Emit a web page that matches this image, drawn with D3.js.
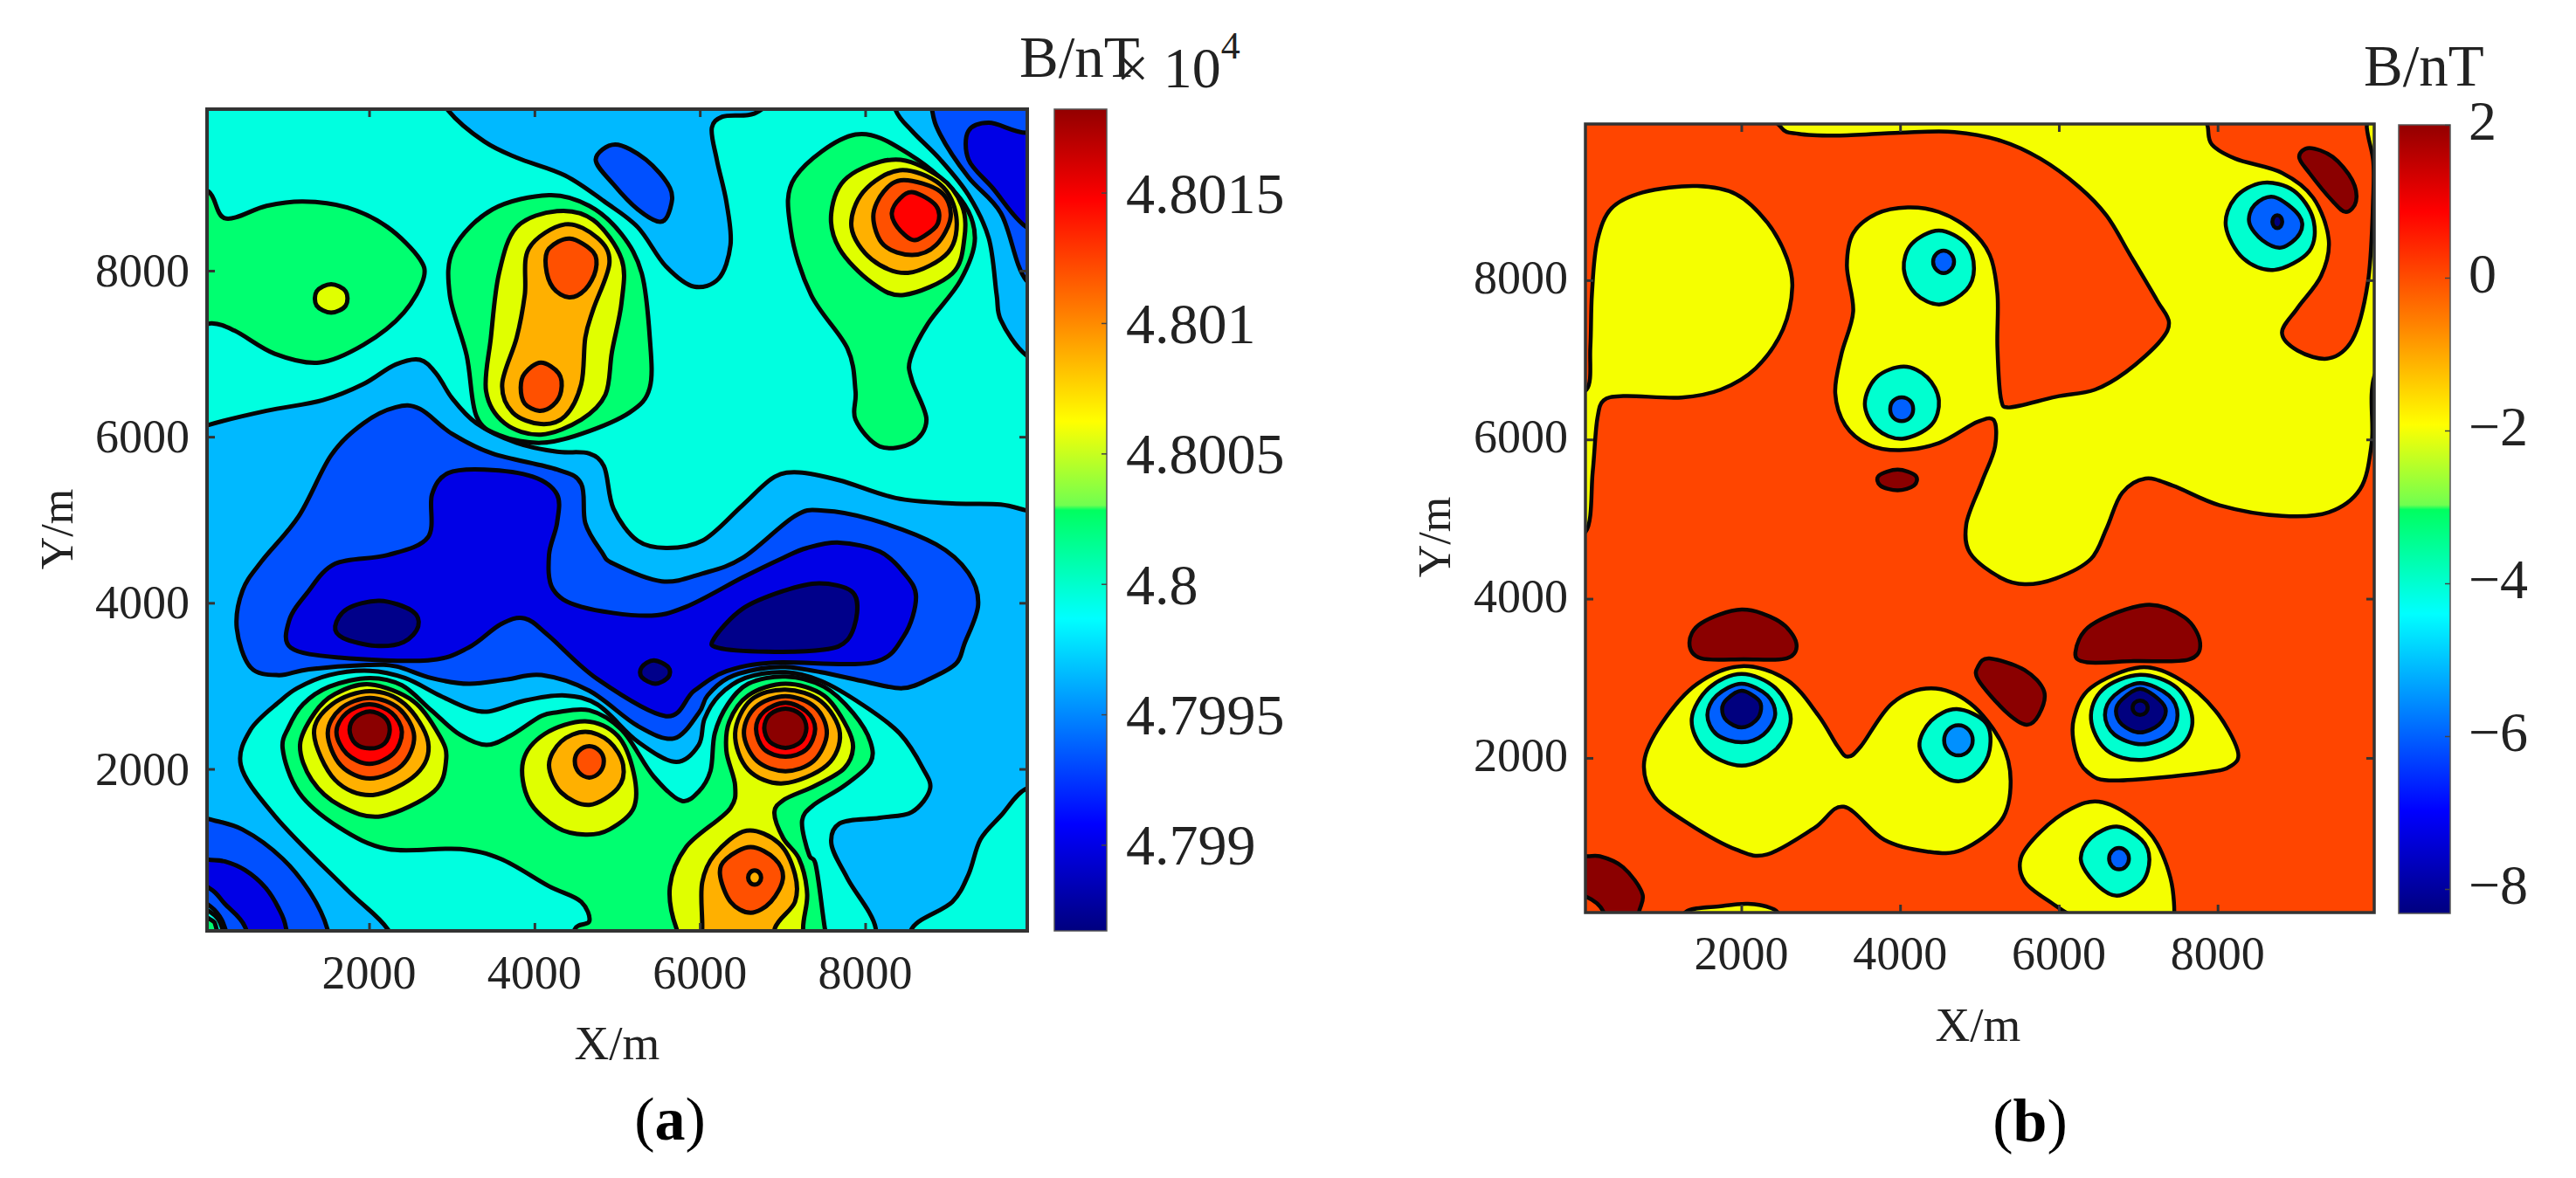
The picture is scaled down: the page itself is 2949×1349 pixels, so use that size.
<!DOCTYPE html>
<html><head><meta charset="utf-8">
<script src="https://cdn.jsdelivr.net/npm/d3@7"></script>
<style>
html,body{margin:0;padding:0;background:#fff}
svg{display:block}
text{font-family:"Liberation Serif",serif;fill:#222}
</style></head><body>
<svg id="c" width="2949" height="1349"></svg>
<script>
// ---------- tick labels ----------
const posTicks=[2000,4000,6000,8000];
const barTicksA=[4.799,4.7995,4.8,4.8005,4.801,4.8015];
const barLabelsA=["4.799","4.7995","4.8","4.8005","4.801","4.8015"];
const barTicksB=[-8,-6,-4,-2,0,2];
const barDomainA=[4.79867,4.80182];
const barDomainB=[-8.32,2];
// colour ramp of the colourbars: [fraction from bottom, colour]
const rampStops=[[0,"#00007f"],[0.13,"#0000ff"],[0.38,"#00ffff"],[0.512,"#00ff60"],[0.518,"#70ff50"],[0.62,"#ffff00"],[0.75,"#ff8000"],[0.89,"#ff0000"],[1,"#930000"]];
// ---------- band names (contour levels), low to high ----------
const bandsA={dark:"#00008a",blue:"#0000e6",royal:"#0050ff",sky:"#00b9ff",cyan:"#00ffe0",green:"#00ff70",lime:"#e0ff00",orange:"#ffb000",hot:"#ff5000",red:"#ff0000",deep:"#8b0000"};
const bandsB={deep:"#8b0000",hot:"#ff4500",lime:"#f5ff00",cyan:"#00ffd0",sky:"#0090ff",royal:"#0060ff",dark:"#00007f"};
// ---------- panel (a) contours, [X m, Y m] ----------
const aSkyTop=[[2700,10400],[2956,9931],[3395,9554],[3785,9361],[4371,9146],[4858,8824],[5249,8524],[5590,8052],[5932,7807],[6224,7901],[6371,8309],[6322,8824],[6205,9339],[6146,9725],[6273,9854],[6712,9918],[7000,10400]];
const aSkyRight=[[8370,9931],[8566,9682],[8907,9339],[9249,8910],[9493,8395],[9590,7708],[9639,7408],[9951,6978],[10400,6800],[10400,10400],[8300,10400]];
const aSkyMain=[[-300,6000],[59,6142],[761,6313],[1444,6442],[1932,6635],[2322,6871],[2615,6927],[2810,6764],[3005,6463],[3298,6163],[3785,5927],[4273,5820],[4663,5798],[4839,5648],[4956,5133],[5249,4747],[5590,4661],[6029,4747],[6517,5176],[6907,5519],[7200,5571],[7688,5476],[8371,5262],[9054,5197],[9639,5184],[9951,5112],[10400,5000],[10400,1800],[9951,1765],[9639,1435],[9395,1153],[9249,729],[9054,400],[8566,80],[8500,-400],[8000,-400],[8127,80],[7785,682],[7590,1106],[7688,1341],[8175,1412],[8566,1482],[8785,1763],[8697,2008],[8416,2429],[7958,2779],[7465,3060],[7036,3165],[6550,3095],[6233,2884],[6057,2604],[5987,2289],[5717,2085],[5249,2329],[4761,2776],[4371,2885],[3883,2823],[3453,2692],[3207,2727],[2855,2884],[2433,3095],[2010,3182],[1517,3130],[1130,2972],[919,2814],[566,2471],[449,2047],[859,1435],[1737,541],[2224,71],[2400,-400],[-300,-400]];
const aRoyalBlob=[[4976,9519],[4741,9339],[4956,9039],[5249,8738],[5522,8588],[5639,8738],[5639,8996],[5346,9339]];
const aRoyalRight=[[8810,9931],[8907,9640],[9249,9124],[9639,8695],[9951,7880],[10400,7700],[10400,10400],[8800,10400]];
const aRoyalMain=[[700,4500],[1151,5047],[1541,5777],[1932,6163],[2322,6356],[2615,6335],[3005,6034],[3493,5798],[4273,5605],[4566,5433],[4615,4961],[4810,4618],[4956,4471],[5541,4259],[6029,4353],[6517,4541],[7151,5047],[7493,5111],[8078,5004],[8858,4704],[9249,4360],[9366,3977],[9200,3506],[9100,3270],[8800,3095],[8451,2972],[7958,3060],[7465,3165],[7036,3228],[6691,3200],[6339,3095],[6093,2884],[5987,2674],[5688,2367],[5249,2518],[4663,2941],[4087,3130],[3665,3077],[3207,3025],[2749,3095],[2327,3235],[1975,3252],[1271,3200],[907,3129],[566,3224],[400,3694],[470,4150]];
const aRoyalCorner=[[-300,1500],[59,1398],[468,1271],[956,918],[1298,494],[1493,80],[1550,-400],[-300,-400]];
const aBlueRight=[[9951,9661],[9493,9781],[9249,9682],[9249,9339],[9541,8996],[9951,8524],[10400,8400],[10400,9800]];
const aBlueMain=[[1590,4471],[2224,4575],[2712,4790],[2761,5305],[2956,5562],[3395,5605],[3980,5519],[4273,5305],[4273,4961],[4176,4575],[4224,4165],[4566,3953],[5346,3845],[5834,3953],[6517,4306],[7005,4541],[7297,4661],[7688,4725],[8175,4618],[8468,4360],[8615,4071],[8468,3600],[8078,3280],[6907,3280],[6322,3176],[5932,2941],[5590,2635],[4761,3082],[4176,3600],[3883,3812],[3590,3741],[3200,3459],[2712,3308],[1639,3341],[1054,3459],[1034,3788],[1249,4118]];
const aBlueCorner=[[-300,904],[84,904],[253,887],[500,781],[746,571],[904,326],[992,98],[1010,-400],[-300,-400]];
const aCornerRoyal=[[-300,700],[84,554],[253,378],[500,98],[560,-400],[-300,-400]];
const aCornerSky=[[-300,500],[84,343],[253,98],[300,-400],[-300,-400]];
const aCornerCyan=[[-300,420],[84,273],[218,98],[260,-400],[-300,-400]];
const aCornerGreen=[[-300,320],[84,186],[148,98],[190,-400],[-300,-400]];
const aDarkLeft=[[2127,4024],[2517,3906],[2595,3718],[2419,3529],[2078,3482],[1688,3576],[1590,3718],[1737,3929]];
const aDarkRight=[[7444,4235],[7834,4141],[7902,3882],[7785,3553],[7493,3435],[6810,3412],[6224,3459],[6175,3576],[6517,3929],[7005,4141]];
const aDarkSmall=[[5444,3308],[5619,3224],[5619,3106],[5463,3026],[5297,3106],[5297,3224]];
const aGreenLeft=[[-300,9000],[59,8953],[254,8631],[761,8781],[1200,8833],[1737,8760],[2224,8524],[2615,8137],[2663,7923],[2419,7494],[1932,7107],[1395,6893],[859,7000],[371,7279],[98,7365],[-300,7300]];
const aGreenMid=[[4175,8910],[4663,8781],[5054,8438],[5298,7966],[5395,7193],[5395,6592],[5151,6292],[4566,6034],[4078,5927],[3590,6013],[3298,6249],[3180,6979],[2976,7708],[3024,8266],[3493,8738]];
const aGreenRight=[[7883,9640],[8566,9382],[9151,8867],[9327,8395],[9151,7880],[8761,7365],[8546,6936],[8566,6678],[8741,6206],[8566,5927],[8175,5884],[7883,6206],[7883,6549],[7785,7064],[7346,7708],[7102,8481],[7151,9124]];
const aGreenMain=[[4550,-400],[4488,71],[4663,165],[4566,400],[4176,588],[3590,918],[3102,1035],[2224,1035],[1639,1294],[1151,1718],[954,2253],[1025,2499],[1201,2779],[1517,2990],[2010,3095],[2397,3007],[2749,2709],[3101,2411],[3418,2289],[3700,2394],[4087,2639],[4273,2682],[4663,2706],[5054,2471],[5444,1906],[5785,1614],[5987,1728],[6128,1973],[6181,2429],[6339,2779],[6585,3025],[7036,3112],[7501,2990],[7853,2674],[8064,2324],[8064,2078],[7747,1798],[7360,1553],[7237,1377],[7325,957],[7395,871],[7512,80],[7600,-400]];
const aLimeDot=[[1541,7837],[1717,7751],[1717,7579],[1541,7494],[1366,7579],[1366,7751]];
const aLimeMid=[[4273,8717],[4712,8609],[5054,8137],[5054,7622],[4937,7021],[4858,6506],[4566,6206],[4078,6026],[3639,6163],[3415,6549],[3473,7193],[3571,7966],[3785,8524]];
const aLimeRight=[[8371,9339],[8907,9124],[9171,8781],[9200,8395],[9054,7966],[8468,7708],[8078,7858],[7688,8266],[7590,8695],[7785,9124]];
const aLimePeak1=[[2010,3018],[2538,2814],[2855,2394],[2932,2113],[2785,1728],[2151,1430],[1658,1553],[1306,1868],[1165,2289],[1341,2674],[1588,2902]];
const aLimePeak3=[[4615,2574],[5005,2400],[5200,1953],[5200,1529],[4907,1271],[4615,1209],[4273,1294],[3932,1624],[3863,2094],[4127,2424]];
const aLimeChannel=[[6000,-400],[5717,80],[5639,588],[5834,1059],[6371,1529],[6427,1798],[6321,2219],[6357,2569],[6585,2884],[7036,3025],[7501,2884],[7782,2499],[7853,2254],[7747,2008],[7395,1798],[7008,1623],[6902,1482],[7008,1167],[7200,918],[7298,494],[7249,80],[7300,-400]];
const aOrangeMid=[[4371,8558],[4761,8395],[4907,8094],[4712,7536],[4615,7193],[4566,6635],[4371,6249],[4078,6154],[3737,6292],[3610,6635],[3785,7193],[3883,7708],[3932,8266]];
const aOrangeRight=[[8419,9210],[8907,9039],[9102,8652],[9005,8223],[8517,7974],[8078,8137],[7834,8524],[7980,8953]];
const aOrangePeak1=[[2010,2937],[2433,2779],[2714,2324],[2573,1938],[2045,1686],[1588,1868],[1334,2429],[1553,2779]];
const aOrangePeak2=[[7036,2955],[7465,2814],[7694,2429],[7536,2043],[7008,1826],[6585,1991],[6427,2429],[6621,2832]];
const aOrangePeak3=[[4615,2447],[4907,2329],[5073,2047],[5005,1765],[4663,1567],[4322,1718],[4176,2047],[4322,2329]];
const aOrangeLow=[[6566,1256],[6956,1106],[7151,729],[7151,400],[6907,80],[6900,-400],[6000,-400],[6029,80],[6029,635],[6176,965]];
const aHotMidUp=[[4429,8386],[4712,8223],[4741,8009],[4615,7773],[4419,7678],[4224,7794],[4137,8052],[4175,8266]];
const aHotMidLow=[[4078,6893],[4293,6764],[4322,6549],[4224,6378],[4059,6313],[3883,6399],[3834,6592],[3883,6764]];
const aHotRight=[[8468,9090],[8907,8953],[9034,8652],[8858,8309],[8566,8189],[8224,8309],[8098,8652],[8224,8953]];
const aHotPeak1=[[2010,2856],[2362,2727],[2545,2394],[2397,2043],[2010,1885],[1658,2043],[1500,2429],[1658,2727]];
const aHotPeak2=[[7036,2877],[7395,2744],[7536,2429],[7377,2096],[7036,1973],[6691,2096],[6533,2429],[6673,2744]];
const aHotPeak3=[[4663,2273],[4790,2215],[4839,2094],[4790,1960],[4663,1896],[4536,1960],[4488,2094],[4536,2215]];
const aHotLow=[[6615,1059],[6907,918],[7005,682],[6859,400],[6615,268],[6371,400],[6244,729],[6322,918]];
const aRedRight=[[8585,8944],[8858,8781],[8878,8567],[8712,8416],[8566,8373],[8390,8524],[8322,8695],[8419,8867]];
const aRedPeak1=[[2003,2779],[2274,2674],[2397,2446],[2292,2183],[2003,2061],[1729,2183],[1605,2446],[1729,2674]];
const aRedPeak2=[[7036,2797],[7289,2692],[7395,2481],[7289,2236],[7036,2148],[6779,2236],[6680,2481],[6779,2692]];
const aOrangeDot=[[6663,777],[6718,752],[6741,692],[6718,632],[6663,607],[6608,632],[6585,692],[6608,752]];
const aDeepPeak1=[[2010,2692],[2186,2622],[2250,2471],[2186,2306],[2010,2247],[1834,2306],[1764,2471],[1834,2622]];
const aDeepPeak2=[[7036,2727],[7219,2657],[7289,2492],[7219,2324],[7036,2254],[6849,2324],[6779,2492],[6849,2657]];
// ---------- panel (b) contours ----------
const bLimeBig=[[2505,9915],[2721,9839],[3212,9817],[3998,9853],[4686,9861],[5275,9750],[5766,9527],[6257,9170],[6601,8812],[6896,8321],[7240,7741],[7387,7473],[7289,7250],[6847,6848],[6454,6625],[5963,6536],[5354,6402],[5275,6491],[5226,7161],[5226,7830],[5128,8321],[4882,8634],[4489,8857],[4096,8915],[3703,8835],[3409,8589],[3330,8187],[3409,7607],[3261,7071],[3183,6580],[3310,6179],[3605,5933],[3998,5866],[4489,5955],[4980,6223],[5177,6246],[5196,5911],[5029,5464],[4833,4929],[4882,4572],[5275,4259],[5570,4181],[5963,4255],[6405,4500],[6601,4882],[6798,5330],[7092,5509],[7436,5420],[8025,5174],[8811,5040],[9401,5085],[9794,5375],[9941,5955],[9975,6800],[10400,7500],[10400,10400],[2400,10400]];
const bHotPocket=[[7878,9915],[7927,9705],[8221,9527],[8811,9348],[9204,9036],[9401,8500],[9303,8053],[9008,7652],[8811,7339],[9008,7116],[9401,7018],[9696,7250],[9892,7964],[9960,9036],[9960,9500],[9880,9915],[9880,10400],[7850,10400]];
const bDeepTop=[[9155,9661],[9450,9549],[9695,9259],[9744,8991],[9617,8857],[9450,8991],[9155,9348],[9027,9549]];
const bCyanTR=[[8566,9223],[8959,9125],[9204,8768],[9155,8366],[8713,8129],[8320,8277],[8104,8679],[8222,9036]];
const bRoyalTR=[[8713,9045],[9027,8812],[9037,8589],[8811,8411],[8566,8500],[8399,8723],[8467,8946]];
const bDarkTR=[[8752,8815],[8796,8792],[8814,8735],[8796,8678],[8752,8655],[8708,8678],[8690,8735],[8708,8792]];
const bLimeLeft=[[39,4840],[128,5598],[187,6268],[265,6491],[511,6545],[1248,6527],[1739,6625],[2181,6893],[2525,7384],[2642,7920],[2574,8277],[2328,8723],[1935,9080],[1444,9183],[756,9103],[363,8902],[187,8500],[118,7830],[98,7161],[49,6625],[-300,6600],[-300,4800]];
const bCyanUp=[[4489,8625],[4833,8455],[4931,8143],[4833,7875],[4509,7696],[4194,7830],[4047,8143],[4145,8455]];
const bRoyalUp=[[4548,8372],[4640,8330],[4680,8232],[4640,8134],[4548,8090],[4456,8134],[4416,8232],[4456,8330]];
const bCyanLow=[[4047,6915],[4342,6781],[4489,6491],[4391,6179],[4027,6009],[3703,6134],[3556,6447],[3703,6781]];
const bRoyalLow=[[4020,6530],[4125,6486],[4165,6380],[4125,6274],[4020,6230],[3915,6274],[3875,6380],[3915,6486]];
const bDeepDot=[[3969,5621],[4194,5545],[4175,5420],[3969,5362],[3752,5420],[3733,5545]];
const bDeepLeft=[[2004,3863],[2475,3716],[2692,3446],[2574,3250],[2033,3240],[1493,3250],[1346,3446],[1493,3691]];
const bDeepRight=[[7092,3922],[7583,3765],[7780,3446],[7633,3235],[6945,3216],[6356,3201],[6208,3324],[6405,3667]];
const bDeepMid=[[5128,3250],[5570,3103],[5815,2833],[5747,2539],[5589,2417],[5324,2588],[4985,2980],[4985,3152]];
const bDeepCorner=[[39,766],[216,765],[511,627],[756,284],[707,39],[700,-400],[-300,-400],[-300,800]];
const bHotCorner=[[-300,300],[39,260],[265,64],[300,-400],[-300,-400]];
const bLimeBottom=[[1200,-200],[1297,64],[1739,137],[2082,167],[2377,113],[2475,39],[2600,-200]];
const bLimePeanut=[[2004,3152],[2574,2980],[2967,2539],[3212,2147],[3340,2015],[3507,2147],[3900,2686],[4391,2873],[4882,2686],[5275,2196],[5393,1706],[5275,1216],[4784,848],[4342,824],[3802,971],[3291,1387],[2917,1118],[2328,789],[1935,848],[1346,1167],[904,1510],[776,1951],[1002,2441],[1444,2931]];
const bCyanB1=[[2004,3054],[2426,2882],[2623,2490],[2426,2098],[2004,1902],[1542,2098],[1375,2490],[1596,2882]];
const bRoyalB1=[[2004,2931],[2328,2784],[2426,2539],[2279,2294],[2004,2196],[1690,2294],[1572,2539],[1690,2784]];
const bDarkB1=[[2004,2843],[2210,2735],[2249,2613],[2180,2466],[2004,2382],[1817,2466],[1758,2613],[1817,2735]];
const bCyanB2=[[4715,2613],[5079,2441],[5128,2098],[4980,1828],[4735,1706],[4440,1828],[4244,2147],[4391,2466]];
const bSkyB2=[[4735,2411],[4862,2355],[4915,2221],[4862,2087],[4735,2031],[4608,2087],[4555,2221],[4608,2355]];
const bLimeB3=[[7024,3137],[7534,2980],[7976,2588],[8251,2098],[8173,1902],[7829,1814],[6699,1716],[6356,1828],[6208,2098],[6188,2490],[6405,2882]];
const bCyanB3=[[7024,3044],[7485,2882],[7682,2490],[7534,2147],[7043,1975],[6601,2098],[6405,2490],[6552,2858]];
const bRoyalB3=[[7024,2941],[7387,2784],[7495,2539],[7387,2294],[7043,2172],[6699,2294],[6581,2539],[6699,2784]];
const bDarkB3=[[7024,2868],[7259,2735],[7348,2588],[7259,2417],[7024,2319],[6797,2417],[6719,2588],[6797,2735]];
const bDarkB3Inner=[[7024,2720],[7091,2694],[7119,2630],[7091,2566],[7024,2540],[6957,2566],[6929,2630],[6957,2694]];
const bLimeB4=[[6503,1451],[6945,1240],[7240,921],[7436,333],[7387,-200],[6900,-200],[6300,-50],[5913,176],[5570,446],[5521,740],[5766,1069],[6159,1363]];
const bCyanB4=[[6729,1137],[7043,971],[7141,725],[7043,431],[6729,270],[6454,431],[6277,725],[6405,995]];
const bRoyalB4=[[6758,870],[6846,830],[6883,735],[6846,640],[6758,600],[6670,640],[6633,735],[6670,830]];
// paint order, low layers first
const layersA=[
 ["sky",aSkyTop],["sky",aSkyRight],["sky",aSkyMain],
 ["royal",aRoyalBlob],["royal",aRoyalRight],["royal",aRoyalMain],["royal",aRoyalCorner],
 ["blue",aBlueRight],["blue",aBlueMain],["blue",aBlueCorner],
 ["royal",aCornerRoyal],["sky",aCornerSky],["cyan",aCornerCyan],["green",aCornerGreen],
 ["dark",aDarkLeft],["dark",aDarkRight],["dark",aDarkSmall],
 ["green",aGreenLeft],["green",aGreenMid],["green",aGreenRight],["green",aGreenMain],
 ["lime",aLimeDot],["lime",aLimeMid],["lime",aLimeRight],["lime",aLimePeak1],["lime",aLimePeak3],["lime",aLimeChannel],
 ["orange",aOrangeMid],["orange",aOrangeRight],["orange",aOrangePeak1],["orange",aOrangePeak2],["orange",aOrangePeak3],["orange",aOrangeLow],
 ["hot",aHotMidUp],["hot",aHotMidLow],["hot",aHotRight],["hot",aHotPeak1],["hot",aHotPeak2],["hot",aHotPeak3],["hot",aHotLow],
 ["red",aRedRight],["red",aRedPeak1],["red",aRedPeak2],["orange",aOrangeDot],
 ["deep",aDeepPeak1],["deep",aDeepPeak2]];
const layersB=[
 ["lime",bLimeBig],["hot",bHotPocket],["deep",bDeepTop],["cyan",bCyanTR],["royal",bRoyalTR],["dark",bDarkTR],
 ["lime",bLimeLeft],["cyan",bCyanUp],["royal",bRoyalUp],["cyan",bCyanLow],["royal",bRoyalLow],["deep",bDeepDot],
 ["deep",bDeepLeft],["deep",bDeepRight],["deep",bDeepMid],["deep",bDeepCorner],["hot",bHotCorner],["lime",bLimeBottom],
 ["lime",bLimePeanut],["cyan",bCyanB1],["royal",bRoyalB1],["dark",bDarkB1],["cyan",bCyanB2],["sky",bSkyB2],
 ["lime",bLimeB3],["cyan",bCyanB3],["royal",bRoyalB3],["dark",bDarkB3],["dark",bDarkB3Inner],
 ["lime",bLimeB4],["cyan",bCyanB4],["royal",bRoyalB4]];

const svg=d3.select("#c");
const defs=svg.append("defs");
const grad=defs.append("linearGradient").attr("id","ramp").attr("x1",0).attr("y1",1).attr("x2",0).attr("y2",0);
rampStops.forEach(s=>grad.append("stop").attr("offset",s[0]).attr("stop-color",s[1]));

function panel(o){
  const x=d3.scaleLinear().domain(o.xd).range([o.l,o.r]);
  const y=d3.scaleLinear().domain(o.yd).range([o.b,o.t]);
  const id="clip"+o.id;
  defs.append("clipPath").attr("id",id).append("rect").attr("x",o.l).attr("y",o.t).attr("width",o.r-o.l).attr("height",o.b-o.t);
  const g=svg.append("g").attr("clip-path",`url(#${id})`);
  g.append("rect").attr("x",o.l).attr("y",o.t).attr("width",o.r-o.l).attr("height",o.b-o.t).attr("fill",o.bands[o.base]);
  // rings that stay inside the frame get the rounder uniform spline; those running off the frame keep a tighter one
  const inner=d3.line().x(d=>x(d[0])).y(d=>y(d[1])).curve(d3.curveCatmullRomClosed.alpha(0));
  const outer=d3.line().x(d=>x(d[0])).y(d=>y(d[1])).curve(d3.curveCatmullRomClosed.alpha(0.25));
  const runsOff=r=>r.some(p=>p[0]<0||p[1]<0||p[0]>10000||p[1]>10000);
  g.selectAll("path.c").data(o.layers).join("path").attr("class","c")
    .attr("d",d=>(runsOff(d[1])?outer:inner)(d[1])).attr("fill",d=>o.bands[d[0]])
    .attr("stroke","#050505").attr("stroke-width",o.sw).attr("stroke-linejoin","round");
  // inward ticks on all four sides
  const tl=9;
  const sides=[
   [d3.axisBottom(x),`translate(0,${o.b})`,-tl],[d3.axisTop(x),`translate(0,${o.t})`,-tl],
   [d3.axisLeft(y),`translate(${o.l},0)`,-tl],[d3.axisRight(y),`translate(${o.r},0)`,-tl]];
  sides.forEach(s=>{
    const a=svg.append("g").attr("transform",s[1]).call(s[0].tickValues(posTicks).tickSize(s[2]).tickFormat(""));
    a.selectAll("line").attr("stroke","#333").attr("stroke-width",3);
    a.select(".domain").remove();
  });
  svg.append("rect").attr("x",o.l).attr("y",o.t).attr("width",o.r-o.l).attr("height",o.b-o.t)
    .attr("fill","none").attr("stroke","#333").attr("stroke-width",o.fw);
  // tick labels
  svg.append("g").selectAll("text").data(posTicks).join("text").attr("x",d=>x(d)).attr("y",o.xTickY)
    .attr("text-anchor","middle").attr("font-size",54).text(d=>d);
  svg.append("g").selectAll("text").data(posTicks).join("text").attr("x",o.yTickX).attr("y",d=>y(d)+o.yTickDy)
    .attr("text-anchor","end").attr("font-size",54).text(d=>d);
  svg.append("text").attr("x",(o.l+o.r)/2+o.xlOff).attr("y",o.xLabY).attr("text-anchor","middle").attr("font-size",55).text("X/m");
  svg.append("text").attr("transform",`translate(${o.yLabX},${o.yLabC}) rotate(-90)`).attr("text-anchor","middle").attr("font-size",52).text("Y/m");
  // colourbar
  const c=d3.scaleLinear().domain(o.bd).range([o.bb,o.bt]);
  svg.append("rect").attr("x",o.bl).attr("y",o.bt).attr("width",o.br-o.bl).attr("height",o.bb-o.bt)
    .attr("fill","url(#ramp)").attr("stroke","#555").attr("stroke-width",1.5);
  const ax=svg.append("g").attr("transform",`translate(${o.br},0)`).call(d3.axisLeft(c).tickValues(o.bt_).tickSize(6).tickFormat(""));
  ax.selectAll("line").attr("stroke","#444").attr("stroke-width",1.5); ax.select(".domain").remove();
  svg.append("g").selectAll("text").data(o.bt_).join("text").attr("x",o.bLabX).attr("y",d=>c(d)+o.bDy)
    .attr("font-size",o.bFs).text((d,i)=>o.bLabs[i]);
  svg.append("text").attr("x",o.unitX).attr("y",o.unitY).attr("font-size",67).text("B/nT");
  const cap=svg.append("text").attr("x",o.capX).attr("y",o.capY).attr("text-anchor","middle").attr("font-size",70).style("fill","#000");
  cap.append("tspan").text("(");cap.append("tspan").attr("font-weight","bold").text(o.cap);cap.append("tspan").text(")");
}
panel({id:"a",xd:[40,9960],yd:[50,9945],l:237,r:1176,t:125,b:1066,bands:bandsA,base:"cyan",layers:layersA,sw:5,fw:4,
  xTickY:1132,yTickX:217,yTickDy:18,xLabY:1213,xlOff:0,yLabX:83,yLabC:606,
  bd:barDomainA,bl:1207,br:1267,bt:125,bb:1066,bt_:barTicksA,bLabs:barLabelsA,bLabX:1289,bDy:23,bFs:66,unitX:1167,unitY:88,capX:767,capY:1305,cap:"a"});
panel({id:"b",xd:[36,9973],yd:[58,9962],l:1815,r:2718,t:142,b:1045,bands:bandsB,base:"hot",layers:layersB,sw:4.5,fw:3.5,
  xTickY:1110,yTickX:1795,yTickDy:15,xLabY:1192,xlOff:-2,yLabX:1660,yLabC:615,
  bd:barDomainB,bl:2746,br:2805,bt:143,bb:1046,bt_:barTicksB,bLabs:barTicksB.map(d=>d<0?"\u2212"+(-d):""+d),bLabX:2826,bDy:17,bFs:64,unitX:2706,unitY:98,capX:2324,capY:1307,cap:"b"});
// multiplier of the left colourbar
const mult=svg.append("text").attr("x",1278).attr("y",100).attr("font-size",66);
mult.append("tspan").text("\u00d7 10");
mult.append("tspan").attr("font-size",44).attr("dy",-33).text("4");
</script>
</body></html>
